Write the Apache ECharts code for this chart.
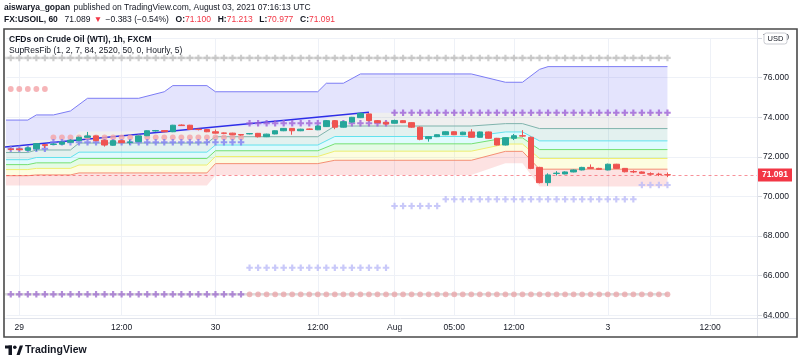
<!DOCTYPE html>
<html><head><meta charset="utf-8">
<script src="https://cdn.jsdelivr.net/npm/echarts@6/dist/echarts.min.js"></script>
<style>html,body{margin:0;padding:0;background:#fff}#c{width:800px;height:362px}</style>
</head><body><div id="c"></div>
<script>
// ---- axis ticks ----
const barCount = 88;
const tickIndex = [1, 13, 24, 36, 45, 52, 59, 70, 82];
const tickLabels = ['29', '12:00', '30', '12:00', 'Aug', '05:00', '12:00', '3', '12:00'];
const priceTicks = {min: 64, max: 78, step: 2};

// ---- candles (hourly, index 0 = Jul 28 23:00) ----
const opens  = [72.40,72.40,72.33,72.41,72.62,72.63,72.64,72.74,72.82,72.99,73.06,72.84,72.59,72.82,72.73,72.77,73.07,73.31,73.33,73.27,73.61,73.60,73.40,73.38,73.27,73.21,73.20,73.13,73.16,73.19,73.02,73.16,73.32,73.44,73.32,73.41,73.37,73.53,73.83,73.50,73.76,73.98,74.17,73.83,73.75,73.70,73.83,73.73,73.50,72.92,73.02,73.12,73.27,73.12,73.26,72.99,73.26,72.94,72.60,72.94,73.07,72.99,71.47,70.70,71.16,71.14,71.24,71.34,71.47,71.42,71.34,71.63,71.42,71.26,71.24,71.15,71.13,71.100];
const highs  = [72.45,72.44,72.48,72.70,72.65,72.68,72.78,72.88,73.02,73.26,73.08,72.86,72.84,72.84,72.86,73.08,73.34,73.36,73.35,73.62,73.64,73.62,73.42,73.40,73.38,73.23,73.22,73.15,73.20,73.21,73.17,73.34,73.46,73.46,73.42,73.43,73.58,73.86,73.85,73.80,74.02,74.24,74.21,73.85,73.77,73.88,73.85,73.75,73.53,73.04,73.14,73.29,73.29,73.27,73.40,73.28,73.28,72.96,72.99,73.16,73.35,73.03,71.50,71.17,71.28,71.27,71.37,71.50,71.62,71.45,71.66,71.65,71.44,71.33,71.27,71.22,71.20,71.213];
const lows   = [72.33,72.32,72.31,72.30,72.45,72.60,72.62,72.72,72.80,72.97,72.80,72.52,72.57,72.70,72.62,72.75,73.05,73.28,73.25,73.25,73.56,73.37,73.34,73.25,73.18,73.15,73.10,73.07,73.14,72.98,73.00,73.14,73.30,73.12,73.30,73.36,73.35,73.51,73.40,73.48,73.74,73.96,73.81,73.70,73.63,73.68,73.71,73.47,72.84,72.77,73.00,73.10,73.10,73.10,72.97,72.97,72.92,72.58,72.58,72.85,73.00,71.38,70.66,70.54,71.06,71.12,71.22,71.32,71.40,71.35,71.32,71.40,71.22,71.18,71.15,71.07,71.03,70.977];
const closes = [72.37,72.36,72.46,72.67,72.57,72.65,72.75,72.84,72.99,73.06,72.82,72.60,72.82,72.72,72.75,73.06,73.32,73.33,73.27,73.60,73.58,73.39,73.38,73.27,73.20,73.19,73.12,73.11,73.18,73.02,73.15,73.32,73.44,73.32,73.40,73.39,73.56,73.83,73.50,73.78,74.00,74.20,73.83,73.73,73.66,73.84,73.73,73.50,72.89,73.02,73.12,73.27,73.12,73.25,72.99,73.26,72.94,72.60,72.97,73.07,73.05,71.42,70.70,71.09,71.18,71.24,71.34,71.47,71.42,71.37,71.63,71.42,71.25,71.24,71.17,71.13,71.11,71.091];
const lastPrice = 71.091;

// ---- SupResFib levels (segments of bar indices, one value per segment) ----
const segIdx    = [[-1,2],[3,7],[8,23],[24,36],[38,54],[58,60],[62,77]];
const fibHigh   = [72.67,72.84,73.28,73.55,74.23,74.23,74.23];
const fib786    = [72.22,72.35,72.70,73.02,73.56,73.68,73.43];
const fib618    = [71.86,71.97,72.24,72.60,73.03,73.26,72.81];
const fib500    = [71.61,71.70,71.92,72.31,72.66,72.96,72.37];
const fib382    = [71.36,71.42,71.59,72.02,72.29,72.65,71.92];
const fib236    = [71.05,71.09,71.19,71.66,71.83,72.28,71.38];
const fibLow    = [70.55,70.55,70.55,71.07,71.09,71.68,70.50];
// upper resistance line [barIndex, price]
const topLine = [[-1,73.86],[2,73.86],[3,74.12],[5,74.12],[7,74.32],[9,74.96],[15,74.96],[18,75.29],[19,75.60],[23,75.60],[24,75.29],[36,75.29],[37,75.72],[39,75.72],[41,76.19],[54,76.19],[58,75.77],[60,75.77],[62,76.42],[63,76.56],[77,76.56]];
// drawn trend line
const trendLine = [[-1,72.49],[42,74.25]];

// ---- marker rows: [fromIndex, toIndex, price] ----
const grayCrosses     = [[0,77,77.00]];
const rowLines        = [[-1,77,77.00],[-1,77,65.06]];
const pinkDots        = [[0,4,75.43],[5,27,72.99]];
const blueCrosses     = [[0,4,72.41],[5,27,72.74]];
const purpleCrosses   = [[28,44,73.70],[45,77,74.23]];
const lavenderCrosses = [[28,44,66.40],[45,50,69.52],[51,73,69.86],[74,77,70.58]];
const bottomCrosses   = [[0,27,65.06]];
const bottomDots      = [[28,77,65.06]];

// ---- build ----
const cats = Array.from({length: barCount}, (_, i) => String(i));
const candleData = opens.map((o, i) => [o, closes[i], lows[i], highs[i]]);
function seg(vals) { const p = []; segIdx.forEach((s, k) => { p.push([s[0], vals[k]]); p.push([s[1], vals[k]]); }); return p; }
function expand(runs) { const out = []; runs.forEach(([a, b, v]) => { for (let i = a; i <= b; i++) out.push([i, v]); }); return out; }

const bands = [
  {up: topLine,     lo: seg(fibHigh), fill: 'rgba(110,110,245,0.19)'},
  {up: seg(fibHigh), lo: seg(fib786), fill: 'rgba(150,150,150,0.15)'},
  {up: seg(fib786),  lo: seg(fib618), fill: 'rgba(0,128,110,0.11)'},
  {up: seg(fib618),  lo: seg(fib500), fill: 'rgba(0,220,240,0.12)'},
  {up: seg(fib500),  lo: seg(fib382), fill: 'rgba(0,220,0,0.10)'},
  {up: seg(fib382),  lo: seg(fib236), fill: 'rgba(240,240,0,0.12)'},
  {up: seg(fib236),  lo: seg(fibLow), fill: 'rgba(240,0,0,0.115)'}
];
const lineDefs = [
  {d: topLine, c: '#7c7cf4'},
  {d: seg(fib786), c: '#7fb3ac'},
  {d: seg(fib618), c: '#62e2ee'},
  {d: seg(fib500), c: '#74e074'},
  {d: seg(fib382), c: '#eeee70'},
  {d: seg(fib236), c: '#f48f74'}
];
const crossPath = 'path://M2,0L4,0L4,2L6,2L6,4L4,4L4,6L2,6L2,4L0,4L0,2L2,2Z';

const series = [];
series.push({
  type: 'custom', coordinateSystem: 'cartesian2d', clip: true, silent: true, z: 1,
  data: bands.map((b, i) => [i, 70]),
  renderItem: function (params, api) {
    const b = bands[params.dataIndex];
    const pts = b.up.map(p => api.coord(p)).concat(b.lo.slice().reverse().map(p => api.coord(p)));
    return {type: 'polygon', shape: {points: pts}, style: {fill: b.fill}};
  }
});
lineDefs.forEach(l => series.push({type: 'line', data: l.d, symbol: 'none', silent: true, z: 2, lineStyle: {color: l.c, width: 1}}));
rowLines.forEach(r => series.push({type: 'line', data: [[r[0], r[2]], [r[1], r[2]]], symbol: 'none', silent: true, z: 2, lineStyle: {color: '#dcdcdc', width: 2.5}}));
series.push({type: 'line', data: trendLine, symbol: 'none', silent: true, z: 3, lineStyle: {color: '#2e2ee8', width: 1.5}});
function scatter(runs, sym, size, color) {
  series.push({type: 'scatter', data: expand(runs), symbol: sym, symbolSize: size, silent: true, z: 4, itemStyle: {color: color}});
}
scatter(grayCrosses, crossPath, 6.5, '#c2c2c2');
scatter(pinkDots, 'circle', 5.8, '#f4a2a6');
scatter(blueCrosses, crossPath, 6.5, '#7e7ef2');
scatter(purpleCrosses, crossPath, 6.5, '#9d62d6');
scatter(lavenderCrosses, crossPath, 6.5, '#bcbcf8');
scatter(bottomCrosses, crossPath, 6.5, '#a070d0');
scatter(bottomDots, 'circle', 5.8, '#eaa8ab');
series.push({
  type: 'candlestick', data: candleData, barWidth: 6, z: 5,
  itemStyle: {color: '#26a69a', color0: '#ef5350', borderColor: '#26a69a', borderColor0: '#ef5350', borderWidth: 1},
  markLine: {
    silent: true, symbol: ['none', 'none'], animation: false,
    data: [{yAxis: lastPrice}],
    lineStyle: {color: 'rgba(242,54,69,0.55)', type: [3, 3], width: 1},
    label: {show: true, position: 'end', distance: 1, formatter: lastPrice.toFixed(3), color: '#ffffff', backgroundColor: '#f23645', padding: [2, 4, 2, 4], fontSize: 8.5, fontWeight: 'bold', fontFamily: 'Liberation Sans'},
    emphasis: {disabled: true}
  }
});

const isTick = i => tickIndex.indexOf(i) >= 0;
const font = 'Liberation Sans, Arial, sans-serif';
const chart = echarts.init(document.getElementById('c'), null, {renderer: 'canvas'});
chart.setOption({
  animation: false,
  backgroundColor: '#ffffff',
  textStyle: {fontFamily: font},
  grid: {left: 6.5, right: 43, top: 38.1, bottom: 46.7, outerBoundsMode: 'none'},
  xAxis: {
    type: 'category', data: cats, boundaryGap: true,
    axisLine: {show: false}, axisTick: {show: false},
    axisLabel: {interval: (i) => isTick(i), formatter: (v, i) => tickLabels[tickIndex.indexOf(i)] || '', color: '#131722', fontSize: 8.5, margin: 8, fontFamily: font},
    splitLine: {show: true, interval: (i) => isTick(i), alignWithLabel: true, lineStyle: {color: '#eef1f7', width: 1}}
  },
  yAxis: {
    type: 'value', position: 'right', min: priceTicks.min, max: priceTicks.max, interval: priceTicks.step,
    axisLine: {show: false},
    axisTick: {show: true, length: 5, lineStyle: {color: '#d6d9e0'}},
    axisLabel: {color: '#131722', fontSize: 8.5, margin: 6, formatter: v => v.toFixed(3), fontFamily: font},
    splitLine: {lineStyle: {color: '#eef1f7', width: 1}}
  },
  series: series,
  graphic: [
    {type: 'line', shape: {x1: 757.5, y1: 29, x2: 757.5, y2: 337}, style: {stroke: '#e0e3eb', lineWidth: 1}, z: 50},
    {type: 'line', shape: {x1: 4, y1: 318.5, x2: 797, y2: 318.5}, style: {stroke: '#e0e3eb', lineWidth: 1}, z: 50},
    {type: 'rect', shape: {x: 4, y: 29, width: 793, height: 308}, style: {fill: 'none', stroke: '#4a4a4a', lineWidth: 1.6}, z: 60},
    {type: 'text', x: 4, y: 2, z: 60, style: {
      text: '{b|aiswarya_gopan} {n|published on TradingView.com, August 03, 2021 07:16:13 UTC}',
      rich: {b: {fontWeight: 'bold', fontSize: 8.5, fill: '#131722', fontFamily: font}, n: {fontSize: 8.5, fill: '#131722', fontFamily: font}}
    }},
    {type: 'text', x: 4, y: 14, z: 60, style: {
      text: '{b|FX:USOIL, 60}  {n|71.089} {r|▼} {n|−0.383 (−0.54%)}  {b|O:}{r|71.100}  {b|H:}{r|71.213}  {b|L:}{r|70.977}  {b|C:}{r|71.091}',
      rich: {b: {fontWeight: 'bold', fontSize: 8.5, fill: '#131722', fontFamily: font}, n: {fontSize: 8.5, fill: '#131722', fontFamily: font}, r: {fontSize: 8.5, fill: '#f23645', fontFamily: font}}
    }},
    {type: 'text', x: 9, y: 35, z: 60, style: {text: 'CFDs on Crude Oil (WTI), 1h, FXCM', fontSize: 8.5, fontWeight: 'bold', fill: '#131722', fontFamily: font}},
    {type: 'text', x: 9, y: 46.5, z: 60, style: {text: 'SupResFib (1, 2, 7, 84, 2520, 50, 0, Hourly, 5)', fontSize: 8.5, fill: '#131722', fontFamily: font}},
    {type: 'rect', shape: {x: 764, y: 33, width: 23, height: 11, r: 2.5}, style: {fill: '#fff', stroke: '#c9cbd1', lineWidth: 1}, z: 60},
    {type: 'text', x: 775.5, y: 38.7, z: 61, style: {text: 'USD', fontSize: 7.5, fill: '#131722', align: 'center', verticalAlign: 'middle', fontFamily: font}},
    {type: 'rect', shape: {x: 5, y: 345.5, width: 7, height: 3}, style: {fill: '#131722'}, z: 60},
    {type: 'rect', shape: {x: 8.5, y: 345.5, width: 3.5, height: 9.5}, style: {fill: '#131722'}, z: 60},
    {type: 'circle', shape: {cx: 14.8, cy: 347.3, r: 1.8}, style: {fill: '#131722'}, z: 60},
    {type: 'polygon', shape: {points: [[16.5, 355], [19.8, 345.5], [23, 345.5], [19.7, 355]]}, style: {fill: '#131722'}, z: 60},
    {type: 'text', x: 25, y: 350.5, z: 60, style: {text: 'TradingView', fontSize: 10.5, fontWeight: 'bold', fill: '#131722', verticalAlign: 'middle', fontFamily: font}}
  ]
});
</script>
</body></html>
